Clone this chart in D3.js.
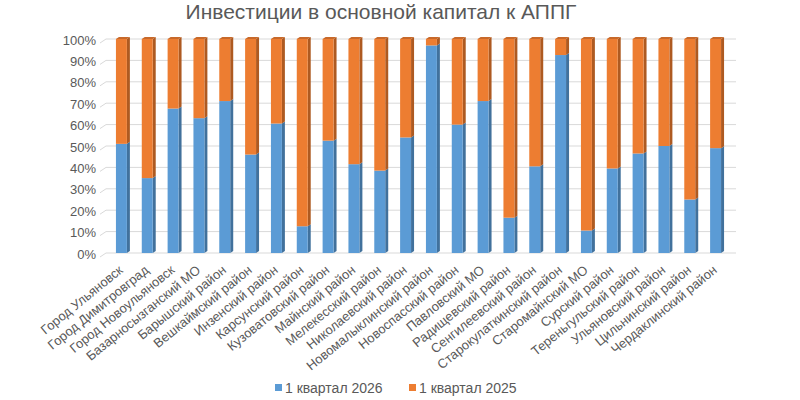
<!DOCTYPE html>
<html>
<head>
<meta charset="utf-8">
<script src="https://cdn.jsdelivr.net/npm/d3@7"></script>
<style>
  body { margin: 0; background: #fff; }
  text { font-family: "Liberation Sans", Arial, sans-serif; fill: #595959; }
</style>
</head>
<body>
<script>
'use strict';

var categories = [
  'Город Ульяновск', 'Город Димитровград', 'Город Новоульяновск',
  'Базарносызганский МО', 'Барышский район', 'Вешкаймский район',
  'Инзенский район', 'Карсунский район', 'Кузоватовский район',
  'Майнский район', 'Мелекесский район', 'Николаевский район',
  'Новомалыклинский район', 'Новоспасский район', 'Павловский МО',
  'Радищевский район', 'Сенгилеевский район', 'Старокулаткинский район',
  'Старомайнский МО', 'Сурский район', 'Тереньгульский район',
  'Ульяновский район', 'Цильнинский район', 'Чердаклинский район'
];

// share of 1 квартал 2026, %
var q2026 = [51, 35, 67.5, 63, 71, 46, 60.5, 12.5, 52.5, 41.5, 38.5, 54,
             97, 60, 71, 16.5, 40.5, 92.5, 10.5, 39.5, 46.5, 50, 25, 49];
// share of 1 квартал 2025, % (rest up to 100)
var q2025 = q2026.map(function(v) { return 100 - v; });

var seriesNames = ['1 квартал 2026', '1 квартал 2025'];
var yTicks = [0, 10, 20, 30, 40, 50, 60, 70, 80, 90, 100];

var colors = {
  front: ['#5B9BD5', '#ED7D31'],
  side:  ['#41719C', '#AE5A21'],
  top:   ['#7FB1E0', '#C8692A']
};

var width = 800, height = 400;
var depthX = 3, depthY = 2;

var svg = d3.select('body').append('svg')
    .attr('width', width)
    .attr('height', height);

var x = d3.scaleBand()
    .domain(categories)
    .range([110, 730])
    .paddingInner(0.46)
    .paddingOuter(0.23);

var y = d3.scaleLinear()
    .domain([0, 100])
    .range([253, 39]);

// title
svg.append('text')
    .attr('x', 381)
    .attr('y', 19)
    .attr('text-anchor', 'middle')
    .style('font-size', '21px')
    .text('Инвестиции в основной капитал к АППГ');

// gridlines (back wall + short side-wall stub)
var grid = svg.append('g');
yTicks.forEach(function(t) {
  grid.append('line')
      .attr('x1', 106).attr('x2', 736)
      .attr('y1', y(t)).attr('y2', y(t))
      .attr('stroke', '#D9D9D9').attr('stroke-width', 1);
  grid.append('line')
      .attr('x1', 100).attr('x2', 106)
      .attr('y1', y(t) + 4).attr('y2', y(t))
      .attr('stroke', '#D9D9D9').attr('stroke-width', 1);
});

// y axis labels
svg.append('g').selectAll('text')
  .data(yTicks)
  .enter().append('text')
    .attr('x', 96)
    .attr('y', function(d) { return y(d) + 1; })
    .attr('dy', '0.35em')
    .attr('text-anchor', 'end')
    .style('font-size', '13px')
    .text(function(d) { return d + '%'; });

// stacked 3D bars
var stack = categories.map(function(c, i) {
  return [
    {cat: c, s: 0, y0: 0, y1: q2026[i]},
    {cat: c, s: 1, y0: q2026[i], y1: q2026[i] + q2025[i]}
  ];
});

var frontW = x.bandwidth() - depthX;
var bars = svg.append('g');

stack.forEach(function(segs) {
  var g = bars.append('g');
  segs.forEach(function(d) {
    var x0 = x(d.cat), xr = x0 + frontW;
    var yt = y(d.y1), yb = y(d.y0);
    g.append('polygon')
        .attr('points', [[xr, yb], [xr + depthX, yb - depthY],
                         [xr + depthX, yt - depthY], [xr, yt]].join(' '))
        .attr('fill', colors.side[d.s]);
    g.append('rect')
        .attr('x', x0).attr('y', yt)
        .attr('width', frontW).attr('height', yb - yt)
        .attr('fill', colors.front[d.s]);
    if (d.s === 1) {
      g.append('polygon')
          .attr('points', [[x0, yt], [x0 + depthX, yt - depthY],
                           [xr + depthX, yt - depthY], [xr, yt]].join(' '))
          .attr('fill', colors.top[d.s]);
    }
  });
});

// category labels
svg.append('g').selectAll('text')
  .data(categories)
  .enter().append('text')
    .attr('transform', function(d) {
      return 'translate(' + (x(d) + x.bandwidth() / 2 - 2) + ',268) rotate(-39)';
    })
    .attr('text-anchor', 'end')
    .attr('dy', '0.35em')
    .style('font-size', '13px')
    .text(function(d) { return d; });

// legend
var legend = svg.append('g');
var legendX = [275, 409];
seriesNames.forEach(function(name, i) {
  legend.append('rect')
      .attr('x', legendX[i]).attr('y', 384)
      .attr('width', 7).attr('height', 7)
      .attr('fill', colors.front[i]);
  legend.append('text')
      .attr('x', legendX[i] + 10)
      .attr('y', 388)
      .attr('dy', '0.35em')
      .style('font-size', '14px')
      .text(name);
});
</script>
</body>
</html>
